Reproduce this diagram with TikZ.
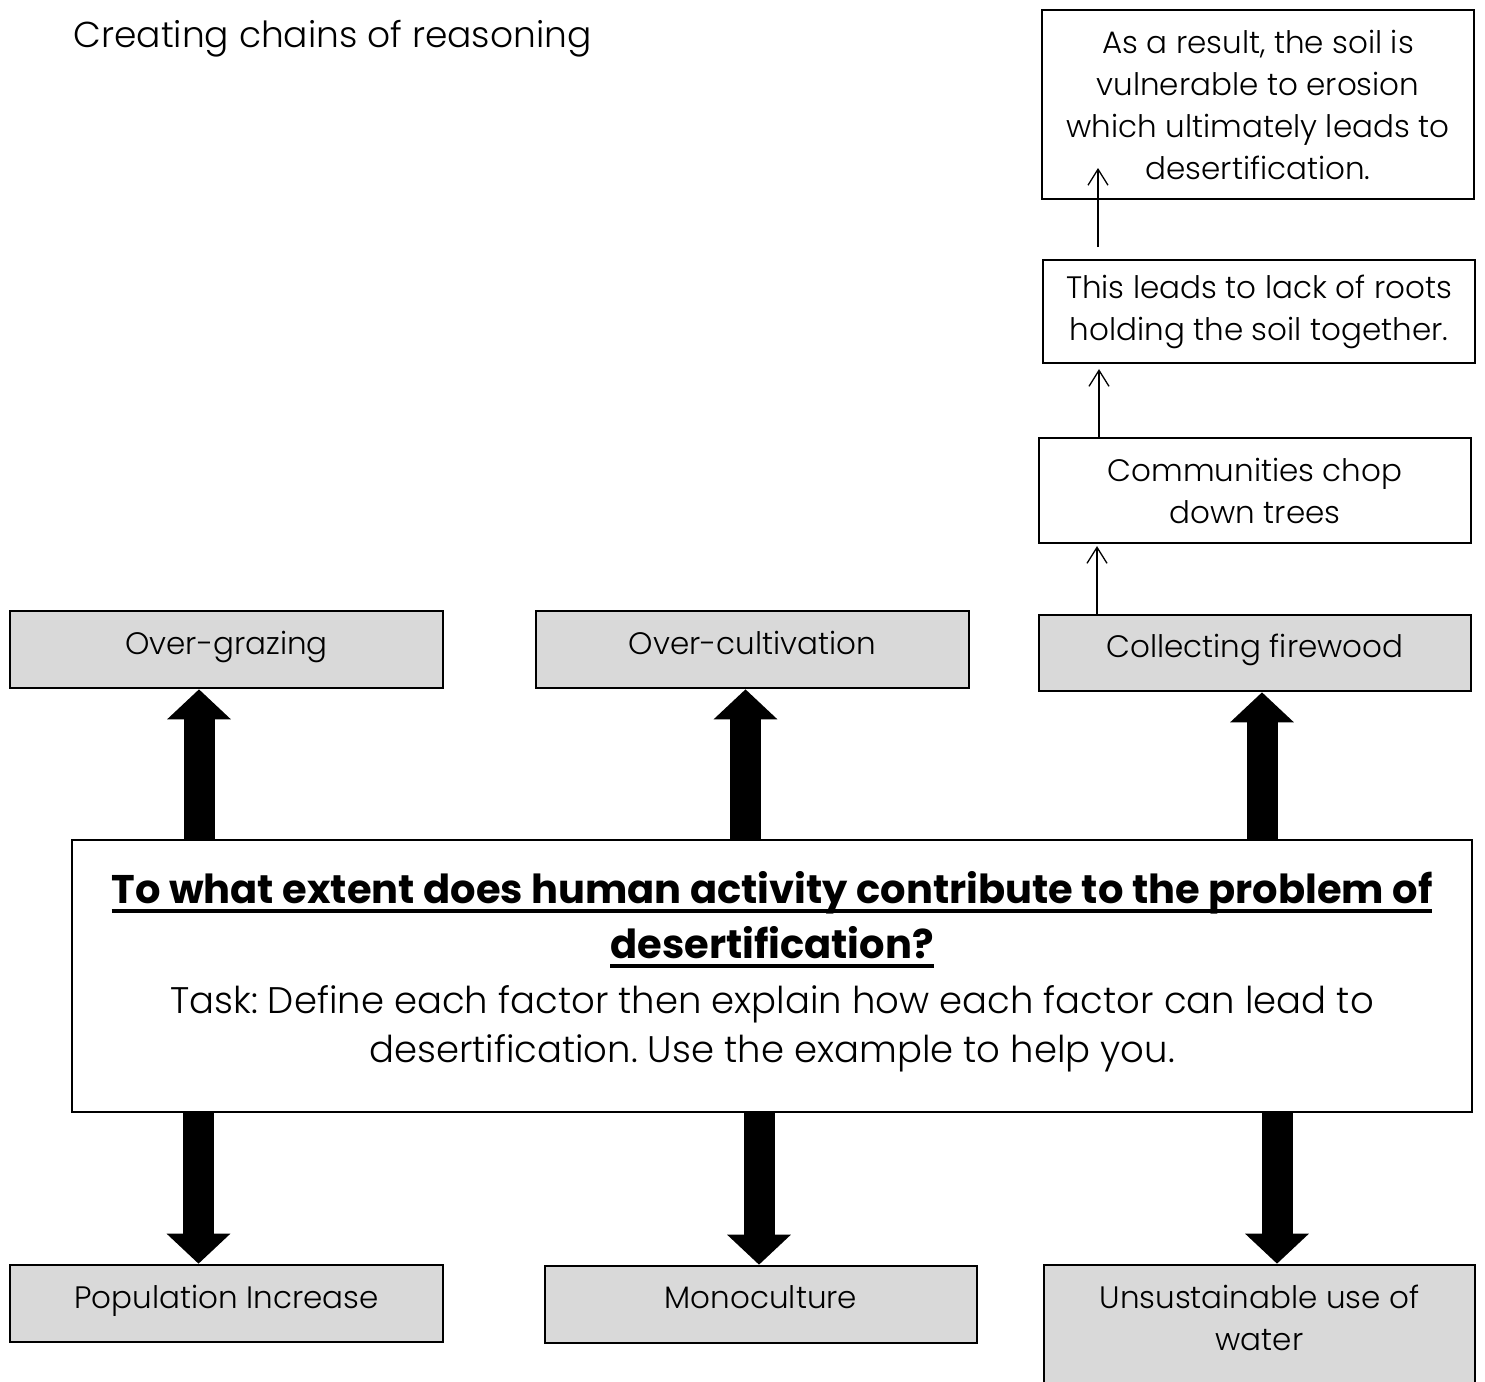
\documentclass[tikz,border=0pt]{standalone}
\usepackage{fontspec}
\setmainfont{Poppins}[UprightFont={* Light},BoldFont={* Bold}]
\usetikzlibrary{arrows.meta}
\definecolor{boxgray}{HTML}{D9D9D9}
\newcommand{\ulq}[1]{\setbox0\hbox{#1}\rlap{\rule[-9pt]{\wd0}{3.5pt}}\box0}
\frenchspacing

\begin{document}
\begin{tikzpicture}[x=1pt,y=-1pt,
  chainbox/.style={draw,line width=2.2pt,fill=white,minimum width=432pt,align=center,inner sep=0pt,font=\fontsize{31}{42}\selectfont},
  factorbox/.style={draw,line width=2.6pt,fill=boxgray,minimum width=433pt,minimum height=77pt,align=center,inner sep=0pt,text depth=14pt,font=\fontsize{31}{42}\selectfont},
  bigarrow/.style={line width=31pt,-{Triangle[width=62pt,length=30pt]}},
  thinarrow/.style={line width=1.3pt,-{Straight Barb[length=16pt,width=20pt]}}]
\useasboundingbox (0,0) rectangle (1485,1381);
\clip (0,0) rectangle (1485,1381);
\fill[white] (0,0) rectangle (1485,1381);

\node[anchor=base west,font=\fontsize{36}{42}\selectfont] (title) at (70,48) {Creating chains of reasoning};

\node[chainbox,minimum height=189pt] (result) at (1258,104.5) {As a result, the soil is\\vulnerable to erosion\\which ultimately leads to\\desertification.};
\node[chainbox,minimum height=103pt] (roots) at (1259,311.5) {This leads to lack of roots\\holding the soil together.};
\node[chainbox,minimum height=105pt] (chop) at (1255,490.5) {Communities chop\\down trees};
\node[factorbox,minimum width=432pt,minimum height=76pt] (fire) at (1255,653) {Collecting firewood};
\node[factorbox] (graze) at (226.5,649.5) {Over-grazing};
\node[factorbox] (cult) at (752.5,649.5) {Over-cultivation};

\node[draw,line width=2.2pt,minimum width=1400pt,minimum height=272pt,align=center,inner sep=0pt,text depth=18pt,font=\fontsize{37}{49}\selectfont] (question) at (772,976)
  {{\fontsize{40}{49}\selectfont\bfseries\ulq{To what extent does human activity contribute to the problem of}}\\[6pt]
   {\fontsize{40}{49}\selectfont\bfseries\ulq{desertification?}}\\[6pt]
   Task: Define each factor then explain how each factor can lead to\\
   desertification. Use the example to help you.};

\node[factorbox] (pop) at (226.5,1303.5) {Population Increase};
\node[factorbox,minimum width=432pt] (mono) at (761,1304.5) {Monoculture};
\node[factorbox,minimum width=431pt,minimum height=130pt,text depth=25pt] (water) at (1259.5,1330) {Unsustainable use of\\water};

\coordinate (gx) at (199,0);
\coordinate (cx) at (745.5,0);
\coordinate (fx) at (1262,0);
\coordinate (px) at (198.5,0);
\coordinate (mx) at (759,0);
\coordinate (wx) at (1277,0);

\draw[bigarrow] (question.north -| gx) -- (graze.south -| gx);
\draw[bigarrow] (question.north -| cx) -- (cult.south -| cx);
\draw[bigarrow] (question.north -| fx) -- (fire.south -| fx);
\draw[bigarrow] (question.south -| px) -- (pop.north -| px);
\draw[bigarrow] (question.south -| mx) -- (mono.north -| mx);
\draw[bigarrow] (question.south -| wx) -- (water.north -| wx);

\coordinate (r1) at (1098,247);
\coordinate (r2) at (1098,168);
\coordinate (sx) at (1099,0);
\coordinate (tx) at (1097,0);
\draw[thinarrow] (r1) -- (r2);
\draw[thinarrow,shorten >=5pt] (chop.north -| sx) -- (roots.south -| sx);
\draw[thinarrow,shorten >=2pt] (fire.north -| tx) -- (chop.south -| tx);
\end{tikzpicture}
\end{document}
